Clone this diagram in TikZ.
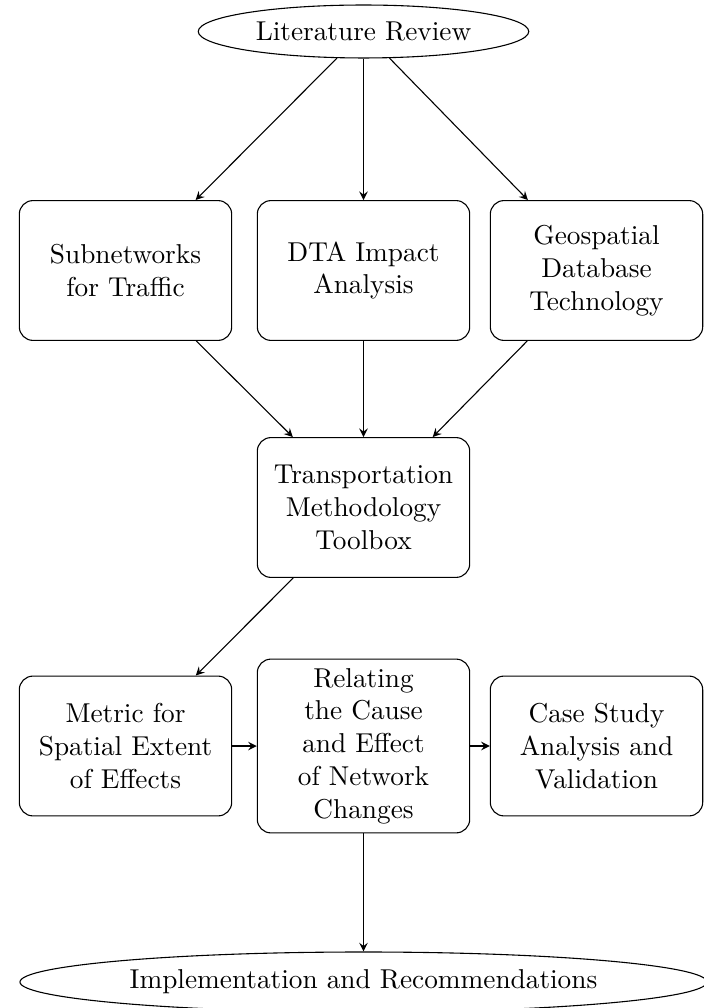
\documentclass[tikz,border=0pt]{standalone}
\usetikzlibrary{shapes.geometric,arrows}
\begin{document}
\begin{tikzpicture}[x=0.3663pt,y=-0.3663pt,
  stepbox/.style={draw, rounded corners=5pt, text width=2.5cm, align=center,
                  minimum height=1.8cm, font=\fontsize{10}{12}\selectfont},
  oval/.style={draw, ellipse},
  flow/.style={-stealth}]
\useasboundingbox (0,0) rectangle (703,1008);

% start and end of the study
\node[oval] (lit) at (363.5,31.5) {Literature Review};
\node[oval] (imp) at (363.5,982) {Implementation and Recommendations};

% background studies
\node[stepbox] (sub) at (125.5,270.5) {Subnetworks\\for Traffic};
\node[stepbox] (dta) at (363.5,270.5) {DTA Impact\\Analysis};
\node[stepbox] (geo) at (596.5,270.5) {Geospatial\\Database\\Technology};

% toolbox
\node[stepbox] (tmt) at (363.5,507.5) {Transportation\\Methodology\\Toolbox};

% analysis row
\node[stepbox] (met) at (125.5,746) {Metric for\\Spatial Extent\\of Effects};
\node[stepbox] (rel) at (363.5,746) {Relating\\the Cause\\and Effect\\of Network\\Changes};
\node[stepbox] (cas) at (596.5,746) {Case Study\\Analysis and\\Validation};

% connectors
\draw[flow] (lit) -- (sub);
\draw[flow] (lit) -- (dta);
\draw[flow] (lit) -- (geo);
\draw[flow] (sub) -- (tmt);
\draw[flow] (dta) -- (tmt);
\draw[flow] (geo) -- (tmt);
\draw[flow] (tmt) -- (met);
\draw[flow] (met) -- (rel);
\draw[flow] (rel) -- (cas);
\draw[flow] (rel) -- (imp);
\end{tikzpicture}
\end{document}
